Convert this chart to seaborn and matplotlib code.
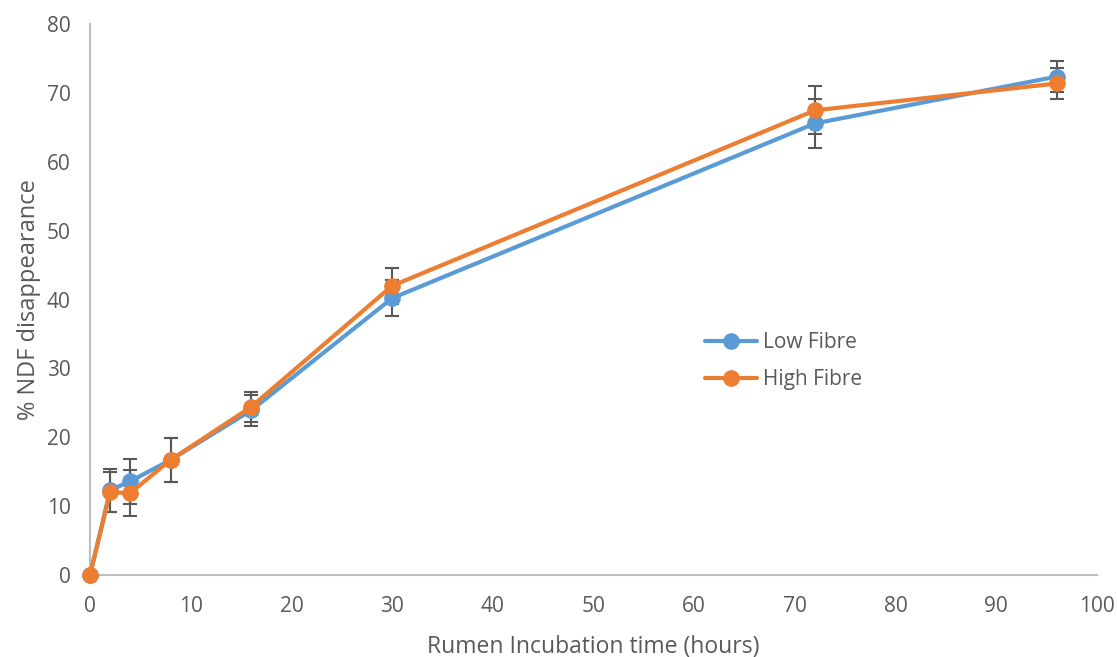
import matplotlib
matplotlib.use("Agg")
import matplotlib.pyplot as plt
import seaborn as sns
import pandas as pd

hours = [0, 2, 4, 8, 16, 30, 72, 96]
low_fibre = [0, 12.3, 13.6, 16.7, 23.9, 40.2, 65.6, 72.4]
high_fibre = [0, 12.0, 11.9, 16.7, 24.4, 42.0, 67.5, 71.4]
low_err = [0, 3.1, 3.3, 3.2, 2.3, 2.6, 3.6, 2.3]
high_err = [0, 2.9, 3.3, 3.2, 2.2, 2.6, 3.5, 2.3]
series_names = ["Low Fibre", "High Fibre"]

sns.set_theme(style="white")
plt.rcParams['font.family'] = ['Open Sans', 'DejaVu Sans']

df = pd.DataFrame({
    "hours": hours * 2,
    "value": low_fibre + high_fibre,
    "series": [series_names[0]] * len(hours) + [series_names[1]] * len(hours),
})

colors = {"Low Fibre": "#5B9BD5", "High Fibre": "#ED7D31"}

fig = plt.figure(figsize=(11.17, 6.57), dpi=100)
ax = fig.add_axes([0.0806, 0.125, 0.9014, 0.838])

for name, vals, errs in [(series_names[0], low_fibre, low_err), (series_names[1], high_fibre, high_err)]:
    ax.errorbar(hours, vals, yerr=errs, fmt="none", ecolor="#595959",
                elinewidth=1.5, capsize=5, capthick=1.5, zorder=2, clip_on=False)

sns.lineplot(data=df, x="hours", y="value", hue="series", palette=colors,
             marker="o", markersize=12, markeredgewidth=0, linewidth=3,
             dashes=False, ax=ax, zorder=3, clip_on=False)

ax.set_xlim(0, 100)
ax.set_ylim(0, 80)
ax.set_xticks(range(0, 101, 10))
ax.set_yticks(range(0, 81, 10))
ax.tick_params(axis="both", length=0, labelsize=15, labelcolor="#595959")
ax.tick_params(axis="x", pad=15)
ax.tick_params(axis="y", pad=14)
for s in ["top", "right"]:
    ax.spines[s].set_visible(False)
for s in ["left", "bottom"]:
    ax.spines[s].set_color("#BFBFBF")
    ax.spines[s].set_linewidth(1.5)

ax.set_xlabel("Rumen Incubation time (hours)", fontsize=16.5, color="#595959", labelpad=13)
ax.set_ylabel("% NDF disappearance", fontsize=17, color="#595959", labelpad=4)

leg = ax.legend(loc="center left", bbox_to_anchor=(0.592, 0.388), frameon=False,
                fontsize=15, handlelength=2.5, labelspacing=0.75, handletextpad=0.3)
for t in leg.get_texts():
    t.set_color("#595959")

fig.savefig("out.png", dpi=100)
